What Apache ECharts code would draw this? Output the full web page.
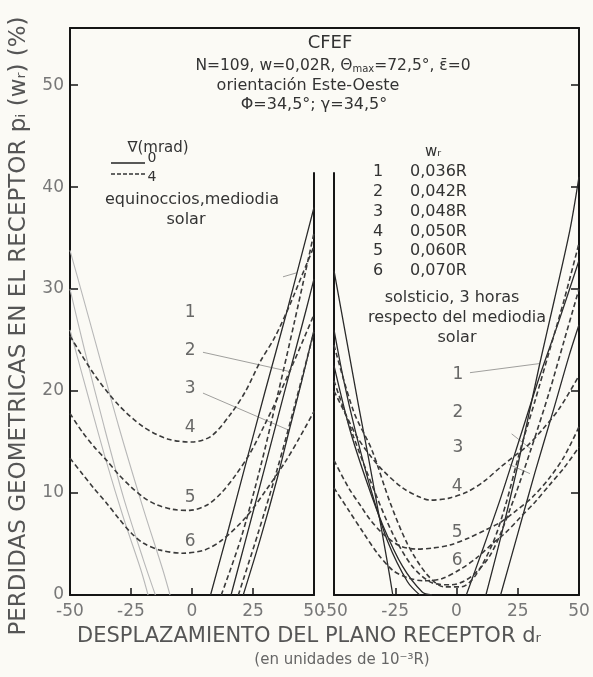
<!DOCTYPE html>
<html><head><meta charset="utf-8">
<script src="https://cdn.jsdelivr.net/npm/echarts@6/dist/echarts.min.js"></script>
<style>html,body{margin:0;padding:0;background:#fbfaf5}#c{width:593px;height:677px}</style>
</head><body><div id="c"></div>
<script>
// ---------- axis ticks ----------
const xTicks = [-50, -25, 0, 25, 50];
const yTickStep = 10;

// ---------- left panel: equinoccios, mediodia solar ----------
const eqDash4 = [[-50,25.4],[-40,21.6],[-30,18.6],[-20,16.5],[-10,15.3],[0,15.0],[8,15.6],[16,17.8],[22,20.0],[28,22.9],[34,25.3],[40,28.4],[45,31.3],[50,34.2]];
const eqDash5 = [[-50,17.8],[-45,16.0],[-40,14.5],[-35,13.2],[-30,11.8],[-25,10.6],[-20,9.6],[-15,8.9],[-8,8.4],[-1,8.3],[6,8.8],[12,10.0],[18,11.8],[24,14.0],[30,16.8],[36,19.8],[42,23.0],[50,27.5]];
const eqDash6 = [[-50,13.4],[-45,11.9],[-40,10.4],[-35,9.0],[-30,7.5],[-25,6.1],[-20,5.1],[-13,4.4],[-4,4.1],[5,4.4],[12.4,5.4],[22,7.6],[30.4,10.3],[38.6,13.2],[44,15.4],[50,18.0]];
const eqDash1R = [[12,0],[20,5.5],[28,12.5],[35,19.5],[42,26.8],[50,35.5]];
const eqDash2R = [[19,0],[27,6],[34.9,12.3],[42,18.5],[48.8,24.7],[50,25.8]];
const eqSolid1R = [[7.6,0],[15,6.5],[21.4,12.3],[30,20],[39,27.9],[45,33.4],[50,38.0]];
const eqSolid2R = [[16,0],[22,5.4],[29.6,12.3],[38,20],[46.7,27.9],[50,31.0]];
const eqSolid3R = [[21,0],[28,5.5],[35,11.5],[40,16.3],[45,21],[50,26]];
const eqSolid1L = [[-50,33.8],[-45,29.5],[-39.8,25],[-30,16.5],[-20,8.5],[-12,2.5],[-9,0]];
const eqSolid2L = [[-50,30],[-44,24],[-36,16.5],[-28,9.5],[-20,3.5],[-15,0]];
const eqSolid3L = [[-50,26],[-42,19],[-35,13],[-28,7.5],[-21,2.5],[-18,0]];
const eqLabels = [['1',-0.8,27.7],['2',-0.8,24.0],['3',-0.8,20.2],['4',-0.8,16.4],['5',-0.8,9.6],['6',-0.8,5.2]];
const eqLeaders = [[[37.3,31.2],[43,31.6]],[[4.5,23.8],[40.2,21.9]],[[4.5,19.8],[39.3,16.2]]];

// ---------- right panel: solsticio, 3 horas respecto del mediodia solar ----------
const solDash4 = [[-50,20],[-45,17.6],[-40.6,15.5],[-35,13.6],[-30,12.2],[-22,10.5],[-15,9.6],[-10.8,9.3],[-3,9.5],[4.3,10.1],[11,11.1],[17.8,12.5],[24,13.7],[28.8,14.6],[35,16.2],[42,18.3],[50,21.5]];
const solDash5 = [[-50,13.2],[-44,10.5],[-39,8.7],[-35.3,7.4],[-30,6.0],[-23,4.8],[-16,4.5],[-10,4.6],[-2.7,4.9],[5,5.6],[12,6.4],[17.8,7.1],[24,8.2],[31,9.6],[38,11.5],[44,13.6],[50,16.5]];
const solDash6 = [[-50,10.5],[-44,8.3],[-38,6.1],[-32,4.0],[-25.9,2.4],[-20,1.7],[-13.7,1.4],[-6,1.6],[1.4,2.5],[8,3.6],[15,5.1],[20,6.1],[26,7.6],[32,9.1],[38,10.8],[44,12.5],[50,14.5]];
const solDash1 = [[-50,24.5],[-42,18],[-34.5,14.2],[-27,9],[-20,5],[-12,2],[-5,0.8],[2,0.8],[8,2],[15,5.2],[20,8.8],[26,14.2],[32,19],[38,24],[44,29],[50,34.5]];
const solDash2 = [[-50,21],[-42,15.5],[-34,10.5],[-26,6],[-18,2.8],[-10,1.2],[-2,1],[6,1.8],[14,4],[22,8.5],[30,14],[38,20],[44,25],[50,30]];
const solSolid1L = [[-50,31.8],[-45,25.2],[-40,18.6],[-36.5,14.2],[-32,8.3],[-28.5,3.6],[-26,0]];
const solSolid2L = [[-50,26],[-46,21],[-41.4,16.2],[-35,10.4],[-28,5.2],[-20,1.3],[-15,0]];
const solSolid3L = [[-50,22.5],[-43.5,16.2],[-36.5,11],[-30,6.8],[-22,2.8],[-14,0.3],[-10,0]];
const solSolid1R = [[12,0],[18,5.6],[25,12.7],[34,22.7],[40,29],[46.3,35.8],[50,41]];
const solSolid2R = [[4,0],[10,4],[18,9.5],[26,15.5],[34,21.5],[42,27],[50,32.8]];
const solSolid3R = [[18,0],[25,6],[32,12],[40,18.5],[46,23.5],[50,26.5]];
const solLabels = [['1',0.6,21.6],['2',0.6,17.9],['3',0.6,14.5],['4',0.3,10.6],['5',0.3,6.1],['6',0.3,3.4]];
const solLeaders = [[[5.5,21.8],[34.1,22.7]],[[22.5,15.8],[30.5,14.3]],[[21.5,12.8],[30,11.9]]];

// ---------- text ----------
const yTitle = 'PERDIDAS GEOMETRICAS EN EL RECEPTOR pᵢ (wᵣ) (%)';
const xTitle = 'DESPLAZAMIENTO DEL PLANO RECEPTOR dᵣ';
const xSubTitle = '(en unidades de 10⁻³R)';
const wrList = [['1','0,036R'],['2','0,042R'],['3','0,048R'],['4','0,050R'],['5','0,060R'],['6','0,070R']];

const FONT = 'DejaVu Sans';
const INK = '#151515';
const SOLID = {color:'#2a2a2a', width:1.3, type:'solid'};
const DASH = {color:'#3a3a3a', width:1.6, type:[5,3]};
const FAINT = {color:'#b8b8b8', width:1.1, type:'solid'};

function ln(data, g, style, z) {
  return {type:'line', xAxisIndex:g, yAxisIndex:g, data:data, showSymbol:false, smooth:0.3,
          lineStyle:style, silent:true, z:z||2};
}
function labelSeries(list, g) {
  return {type:'scatter', xAxisIndex:g, yAxisIndex:g, symbolSize:1, silent:true,
    itemStyle:{color:'rgba(0,0,0,0)'},
    label:{show:true, position:'inside', formatter:p=>p.name, fontSize:17, color:'#444', fontFamily:FONT},
    data:list.map(([t,x,y])=>({name:t, value:[x,y]})), z:5};
}
function leaderSeries(list, g) {
  return {type:'lines', coordinateSystem:'cartesian2d', xAxisIndex:g, yAxisIndex:g, silent:true,
    lineStyle:{color:'#444', width:1}, data:list.map(c=>({coords:c})), z:4};
}

const panelX = g => ({gridIndex:g, type:'value', min:xTicks[0], max:xTicks[xTicks.length-1], interval:25,
  axisLine:{show:true, onZero:false, lineStyle:{color:INK, width:2}},
  axisTick:{show:true, inside:true, length:7, lineStyle:{color:INK, width:1.5}},
  axisLabel:{show:true, fontSize:17, color:'#777', fontFamily:FONT, margin:8},
  splitLine:{show:false}});
const panelY = (g, pos, labels) => ({gridIndex:g, type:'value', min:0, max:55.6, interval:yTickStep, position:pos,
  axisLine:{show:true, onZero:false, lineStyle:{color:INK, width:2}},
  axisTick:{show:true, inside:true, length:8, lineStyle:{color:INK, width:1.5}},
  axisLabel:{show:labels, fontSize:17, color:'#777', fontFamily:FONT, margin:6, showMaxLabel:false,
    formatter:v=> (Math.abs(v/yTickStep - Math.round(v/yTickStep))<1e-6 ? String(v) : '')},
  splitLine:{show:false}});
const frameAxis = (g, pos, show) => ({gridIndex:g, type:'value', min:0, max:1, position:pos, show:show,
  axisLine:{show:true, onZero:false, lineStyle:{color:INK, width:2}},
  axisTick:{show:false}, axisLabel:{show:false}, splitLine:{show:false}});

const txt = (text, x, y, size, extra, rot) => ({type:'text', x:x, y:y, rotation:rot||0, silent:true, z:10,
  style:Object.assign({text:text, fill:'#333', fontSize:size, fontFamily:FONT,
    align:'center', verticalAlign:'middle', textAlign:'center', textVerticalAlign:'middle'}, extra||{})});

const graphics = [
  txt(yTitle, 19, 326, 23, {fill:'#555'}, Math.PI/2),
  txt(xTitle, 309, 637, 21, {fill:'#555'}),
  txt(xSubTitle, 342, 660, 15, {fill:'#666'}),
  txt('CFEF', 330, 43, 18),
  {type:'text', x:333, y:66, z:10, silent:true, style:{
    text:'N=109, w=0,02R, Θ{s|max}=72,5°, ε̄=0', fill:'#333', fontSize:15.5, fontFamily:FONT,
    align:'center', verticalAlign:'middle', textAlign:'center', textVerticalAlign:'middle',
    rich:{s:{fontSize:10, fontFamily:FONT, fill:'#333', verticalAlign:'bottom', padding:[6,0,0,0]}}}},
  txt('orientación Este-Oeste', 308, 86, 16),
  txt('Φ=34,5°; γ=34,5°', 314, 105, 16),
  txt('∇(mrad)', 158, 148, 15),
  {type:'line', silent:true, z:10, shape:{x1:111, y1:163, x2:145, y2:163}, style:{stroke:'#222', lineWidth:1.3}},
  {type:'line', silent:true, z:10, shape:{x1:111, y1:174, x2:145, y2:174}, style:{stroke:'#333', lineWidth:1.5, lineDash:[4,2]}},
  txt('0', 152, 158, 14),
  txt('4', 152, 177, 14),
  txt('equinoccios,mediodia', 192, 200, 16),
  txt('solar', 186, 220, 16),
  txt('wᵣ', 433, 152, 15),
  txt('solsticio, 3 horas', 452, 298, 16),
  txt('respecto del mediodia', 457, 318, 16),
  txt('solar', 457, 338, 16)
];
wrList.forEach(([n, v], i) => {
  const y = 172 + i * 19.8;
  graphics.push(txt(n, 378, y, 16));
  graphics.push(txt(v, 410, y, 16, {align:'left', textAlign:'left'}));
});

const series = [
  ln(eqSolid1L,0,FAINT,1), ln(eqSolid2L,0,FAINT,1), ln(eqSolid3L,0,FAINT,1),
  ln(eqSolid1R,0,SOLID), ln(eqSolid2R,0,SOLID), ln(eqSolid3R,0,SOLID),
  ln(eqDash1R,0,DASH), ln(eqDash2R,0,DASH),
  ln(eqDash4,0,DASH), ln(eqDash5,0,DASH), ln(eqDash6,0,DASH),
  labelSeries(eqLabels,0), leaderSeries(eqLeaders,0),
  ln(solSolid1L,1,SOLID), ln(solSolid2L,1,SOLID), ln(solSolid3L,1,SOLID),
  ln(solSolid1R,1,SOLID), ln(solSolid2R,1,SOLID), ln(solSolid3R,1,SOLID),
  ln(solDash1,1,DASH), ln(solDash2,1,DASH),
  ln(solDash4,1,DASH), ln(solDash5,1,DASH), ln(solDash6,1,DASH),
  labelSeries(solLabels,1), leaderSeries(solLeaders,1)
];

const chart = echarts.init(document.getElementById('c'), null, {renderer:'canvas'});
chart.setOption({
  backgroundColor:'#fbfaf5',
  animation:false,
  grid:[
    {left:70, top:28, width:244, height:567},
    {left:334, top:28, width:245, height:567},
    {left:70, top:28, width:509, height:567},
    {left:70, top:173, width:244, height:422},
    {left:334, top:173, width:245, height:422}
  ],
  xAxis:[ panelX(0), panelX(1), frameAxis(2,'top',true), frameAxis(3,'bottom',false), frameAxis(4,'bottom',false) ],
  yAxis:[ panelY(0,'left',true), panelY(1,'right',false), frameAxis(2,'left',false), frameAxis(3,'right',true), frameAxis(4,'left',true) ],
  series:series,
  graphic:graphics
});
</script></body></html>
